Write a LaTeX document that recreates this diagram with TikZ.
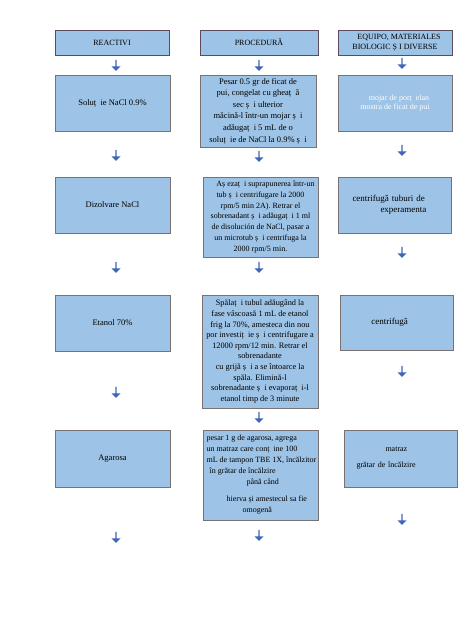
\documentclass[tikz,border=0pt]{standalone}
\usepackage{fontspec}
\setmainfont{Liberation Serif}
\usetikzlibrary{shapes.arrows}
\definecolor{boxfill}{HTML}{9DC3E6}
\definecolor{boxline}{HTML}{7A7272}
\definecolor{headline}{HTML}{5E4A5E}
\definecolor{arrowblue}{HTML}{3F66B8}
\begin{document}
\begin{tikzpicture}[x=1pt,y=-1pt,
      box/.style={draw=boxline,fill=boxfill,line width=1pt,
        inner sep=1pt,align=center,font=\fontsize{8.5}{11.2}\selectfont},
      head/.style={box,draw=headline,minimum height=25pt,
        font=\fontsize{8}{9.5}\selectfont},
      arr/.style={single arrow,fill=arrowblue,rotate=-90,inner sep=0pt,
        minimum height=11pt,minimum width=9pt,single arrow head extend=1.5pt}]
    \useasboundingbox (0,0) rectangle (474,632);
    % reactivi
    \node[head,minimum width=114pt] (rea) at (112,42.5) {REACTIVI};
    \node[box,minimum width=115pt,minimum height=56pt] (nacl) at (112.5,103) {Soluț \ ie NaCl 0.9\%};
    \node[box,minimum width=115pt,minimum height=56pt] (diz) at (112.5,205) {Dizolvare NaCl};
    \node[box,minimum width=115pt,minimum height=56pt] (eta) at (112.5,323) {Etanol 70\%};
    \node[box,minimum width=115pt,minimum height=57pt] (aga) at (112.5,458.5) {Agarosa};
    % procedura
    \node[head,minimum width=118pt] (pro) at (259,42.5) {PROCEDURĂ};
    \node[box,minimum width=116pt,minimum height=72pt,font=\fontsize{8.5}{11.6}\selectfont] (p1) at (258,111)
      {Pesar 0.5 gr de ficat de\\pui, congelat cu gheaț \ ă\\sec ș \ i ulterior\\
       măcină-l într-un mojar ș \ i\\adăugaț \ i 5 mL de o\\soluț \ ie de NaCl la 0.9\% ș \ i};
    \node[box,minimum width=115pt,minimum height=80pt,font=\fontsize{8}{10.9}\selectfont] (p2) at (260.5,217)
      {\hspace{10pt}Aș ezaț \ i suprapunerea într-un\\tub ș \ i centrifugare la 2000\\
       rpm/5 min 2A). Retrar el\\sobrenadant ș \ i adăugaț \ i 1 ml\\
       de disolución de NaCl, pasar a\\un microtub ș \ i centrifuga la\\2000 rpm/5 min.};
    \node[box,minimum width=116pt,minimum height=113pt,font=\fontsize{8.3}{10.6}\selectfont] (p3) at (260,351.5)
      {Spălaț \ i tubul adăugând la\hspace{22pt}\\fase vâscoasă 1 mL de etanol\\
       frig la 70\%, amesteca din nou\\por investiț \ ie ș \ i centrifugare a\\
       12000 rpm/12 min. Retrar el\\sobrenadante\\cu grijă ș \ i a se întoarce la\\
       spăla. Elimină-l\\sobrenadante ș \ i evaporaț \ i-l\\etanol timp de 3 minute};
    \node[box,minimum width=115pt,minimum height=90pt,align=left,font=\fontsize{8}{11}\selectfont] (p4) at (260.5,475)
      {\hspace{2pt}pesar 1 g de agarosa, agrega\\\hspace{2pt}un matraz care conț \ ine 100\\
       \hspace{2pt}mL de tampon TBE 1X, încălzitor\\\hspace{5pt}în grătar de încălzire\\
       \hspace{42pt}până când\\[6pt]\hspace{22pt}hierva și amestecul sa fie\\
       \hspace{38pt}omogenă};
    % echipamente
    \node[head,minimum width=114pt] (ech) at (395,42.5)
      {\hspace{8pt}EQUIPO, MATERIALES\\BIOLOGIC Ș I DIVERSE};
    \node[box,minimum width=114pt,minimum height=56pt,text=white,font=\fontsize{8}{9}\selectfont] (e1) at (395,103)
      {\hspace{8pt}mojar de porț \ elan\\mostra de ficat de pui};
    \node[box,text width=111pt,minimum height=56pt,align=left,font=\fontsize{9}{10.5}\selectfont] (e2) at (395,205)
      {\hspace{13pt}centrifugă tuburi de\\\hspace{41pt}experamenta};
    \node[box,minimum width=113pt,minimum height=55pt,font=\fontsize{9}{10.5}\selectfont] (e3) at (396.5,322.5)
      {\hspace{-14pt}centrifugă};
    \node[box,text width=111pt,minimum height=57pt,align=left,font=\fontsize{8}{10}\selectfont] (e4) at (401,458.5)
      {\hspace{40pt}matraz\\[6pt]\hspace{11pt}grătar de încălzire};
    % sageti
    \node[arr] (a1) at (116,65) {};
    \node[arr] (a2) at (116,155) {};
    \node[arr] (a3) at (116,267) {};
    \node[arr] (a4) at (116,392) {};
    \node[arr] (a5) at (116,537) {};
    \node[arr] (b1) at (259,65) {};
    \node[arr] (b2) at (259,156) {};
    \node[arr] (b3) at (259,267) {};
    \node[arr] (b4) at (259,417) {};
    \node[arr] (b5) at (259,535) {};
    \node[arr] (c1) at (402,63) {};
    \node[arr] (c2) at (402,150) {};
    \node[arr] (c3) at (402,252) {};
    \node[arr] (c4) at (402,371) {};
    \node[arr] (c5) at (402,519) {};
\end{tikzpicture}
\end{document}
